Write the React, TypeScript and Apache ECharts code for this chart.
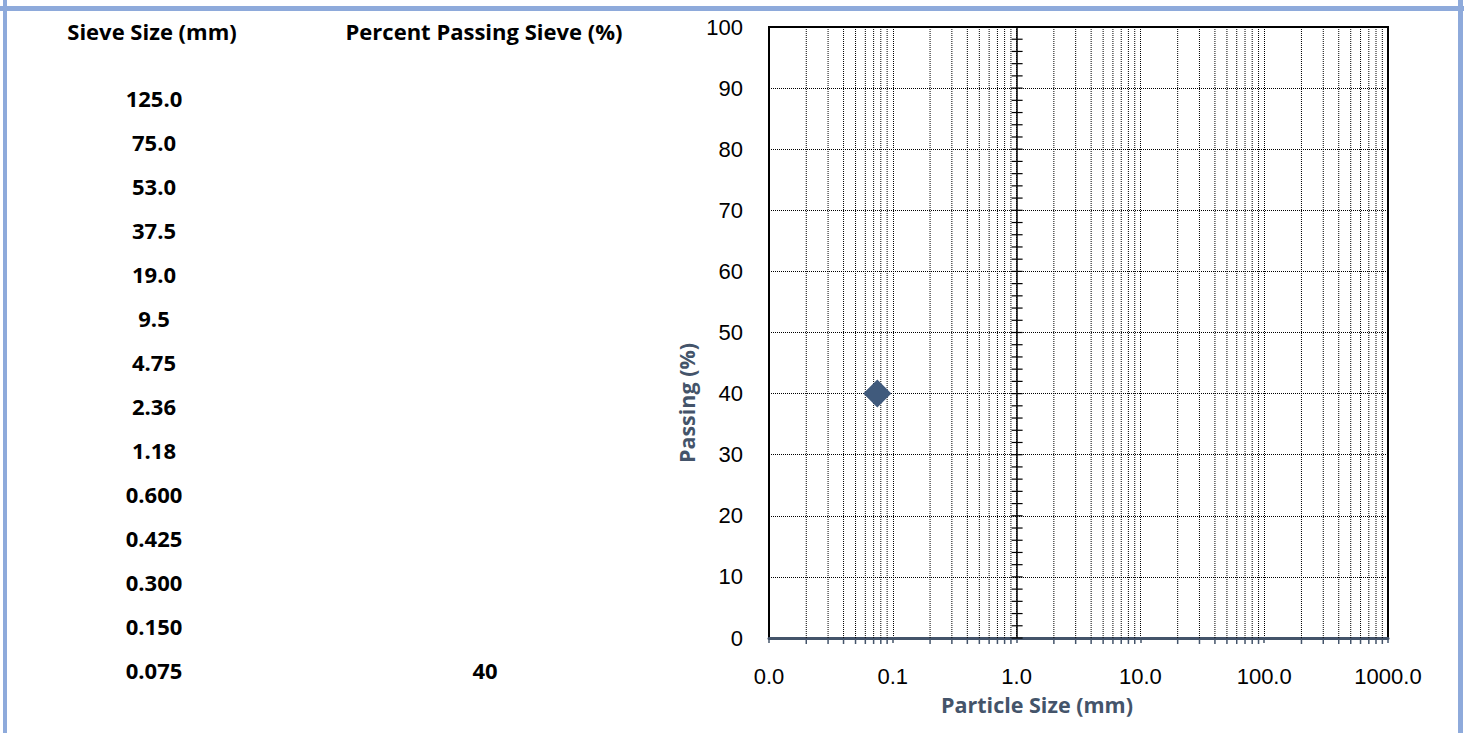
import React, { useEffect, useRef } from "react";
import * as echarts from "echarts";

// ---- data ----
const sieveLabels = ["125.0", "75.0", "53.0", "37.5", "19.0", "9.5", "4.75", "2.36", "1.18", "0.600", "0.425", "0.300", "0.150", "0.075"];
const percentPassing: (number | null)[] = [null, null, null, null, null, null, null, null, null, null, null, null, null, 40];
const tableHeaders = ["Sieve Size (mm)", "Percent Passing Sieve (%)"];
const xTitle = "Particle Size (mm)";
const yTitle = "Passing (%)";
// minor log grid positions (2..9 of each decade)
const minorX = [
  0.02, 0.03, 0.04, 0.05, 0.06, 0.07, 0.08, 0.09,
  0.2, 0.3, 0.4, 0.5, 0.6, 0.7, 0.8, 0.9,
  2, 3, 4, 5, 6, 7, 8, 9,
  20, 30, 40, 50, 60, 70, 80, 90,
  200, 300, 400, 500, 600, 700, 800, 900,
];
// minor ticks on the axis crossing at 1.0 mm
const crossTicksY = [0, 2, 4, 6, 8, 10, 12, 14, 16, 18, 20, 22, 24, 26, 28, 30, 32, 34, 36, 38, 40, 42, 44, 46, 48, 50, 52, 54, 56, 58, 60, 62, 64, 66, 68, 70, 72, 74, 76, 78, 80, 82, 84, 86, 88, 90, 92, 94, 96, 98, 100];

const SLATE = "#44546a";
const BORDER = "#8eaadb";
const TABLE_FONT = 'bold 22px "Open Sans"';

export default function App() {
  const ref = useRef<HTMLDivElement>(null);
  useEffect(() => {
    document.body.style.margin = "0";
    const chart = echarts.init(ref.current!, null, { renderer: "svg" });

    const points = sieveLabels
      .map((s, i) => [parseFloat(s), percentPassing[i]])
      .filter((p) => p[1] !== null);

    const rowTop = 98;
    const rowStep = 44;
    const tableTexts: any[] = [];
    tableTexts.push({ type: "text", x: 152, y: 31, style: { text: tableHeaders[0], font: TABLE_FONT, fill: "#000", align: "center", verticalAlign: "middle" } });
    tableTexts.push({ type: "text", x: 484, y: 31, style: { text: tableHeaders[1], font: TABLE_FONT, fill: "#000", align: "center", verticalAlign: "middle" } });
    sieveLabels.forEach((s, i) => {
      tableTexts.push({ type: "text", x: 154, y: rowTop + i * rowStep, style: { text: s, font: TABLE_FONT, fill: "#000", align: "center", verticalAlign: "middle" } });
      const p = percentPassing[i];
      if (p !== null) {
        tableTexts.push({ type: "text", x: 485, y: rowTop + i * rowStep, style: { text: String(p), font: TABLE_FONT, fill: "#000", align: "center", verticalAlign: "middle" } });
      }
    });

    chart.setOption({
      animation: false,
      backgroundColor: "#fff",
      grid: { left: 769, top: 27, right: 76, bottom: 95, show: true, borderColor: "#000", borderWidth: 2, backgroundColor: "transparent" },
      xAxis: {
        type: "log",
        logBase: 10,
        min: 0.01,
        max: 1000,
        splitNumber: 5,
        axisLine: { show: true, lineStyle: { color: SLATE, width: 3 } },
        axisTick: { show: true, inside: false, length: 5, lineStyle: { color: SLATE, width: 1.5 } },
        axisLabel: {
          margin: 27,
          fontFamily: '"Liberation Sans", Arial, sans-serif',
          fontSize: 22,
          color: "#000",
          formatter: (v: number) => v.toFixed(1),
        },
        splitLine: { show: true, lineStyle: { color: "#000", width: 1, type: [1, 1] } },
      },
      yAxis: {
        type: "value",
        min: 0,
        max: 100,
        interval: 10,
        axisLine: { show: false },
        axisTick: { show: false },
        axisLabel: {
          margin: 26,
          fontFamily: '"Liberation Sans", Arial, sans-serif',
          fontSize: 22,
          color: "#000",
        },
        splitLine: { show: true, lineStyle: { color: "#000", width: 1, type: [1, 1] } },
      },
      series: [
        {
          type: "custom",
          coordinateSystem: "cartesian2d",
          data: minorX.map((x) => [x, 0]),
          silent: true,
          z: 1,
          renderItem: (params: any, api: any) => {
            const x = api.value(0);
            const top = api.coord([x, 100]);
            const bot = api.coord([x, 0]);
            return {
              type: "group",
              children: [
                { type: "line", shape: { x1: top[0], y1: top[1], x2: bot[0], y2: bot[1] }, style: { stroke: "#000", lineWidth: 1, lineDash: [1, 1] } },
                { type: "line", shape: { x1: bot[0], y1: bot[1], x2: bot[0], y2: bot[1] + 6 }, style: { stroke: SLATE, lineWidth: 1.5 } },
              ],
            };
          },
        },
        {
          type: "custom",
          coordinateSystem: "cartesian2d",
          data: crossTicksY.map((y) => [1, y]),
          silent: true,
          z: 3,
          renderItem: (params: any, api: any) => {
            const p = api.coord([api.value(0), api.value(1)]);
            return { type: "line", shape: { x1: p[0] - 5, y1: p[1], x2: p[0] + 6, y2: p[1] }, style: { stroke: "#000", lineWidth: 1.2 } };
          },
        },
        {
          type: "scatter",
          data: points,
          symbol: "diamond",
          symbolSize: 28,
          itemStyle: { color: "#405a7c", opacity: 1 },
          z: 5,
          markLine: {
            silent: true,
            symbol: "none",
            label: { show: false },
            lineStyle: { color: "#000", width: 1.5, type: "solid" },
            data: [{ xAxis: 1 }],
          },
        },
      ],
      graphic: [
        { type: "rect", shape: { x: 3, y: 0, width: 4, height: 733 }, style: { fill: BORDER } },
        { type: "rect", shape: { x: 0, y: 6, width: 1464, height: 5 }, style: { fill: BORDER } },
        { type: "rect", shape: { x: 1458, y: 0, width: 5, height: 733 }, style: { fill: BORDER } },
        ...tableTexts,
        { type: "text", x: 1037, y: 704, style: { text: xTitle, font: 'bold 21.5px "Open Sans"', fill: SLATE, align: "center", verticalAlign: "middle" } },
        { type: "text", x: 686, y: 403, rotation: Math.PI / 2, style: { text: yTitle, font: 'bold 21.5px "Open Sans"', fill: SLATE, align: "center", verticalAlign: "middle" } },
      ],
    });
    return () => chart.dispose();
  }, []);
  return <div ref={ref} style={{ width: 1464, height: 733 }} />;
}
